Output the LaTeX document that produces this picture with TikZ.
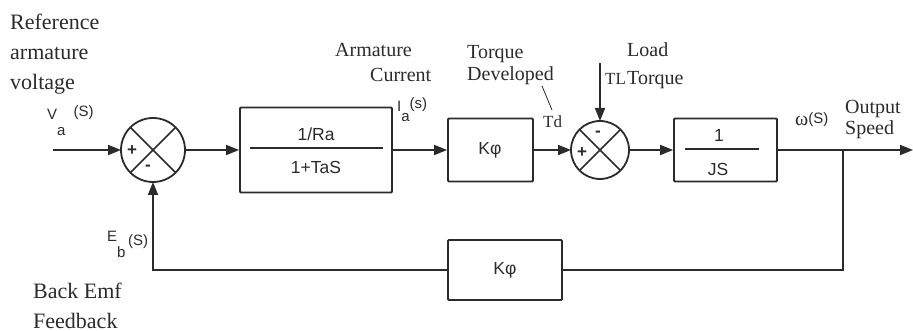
\documentclass[tikz,border=0pt]{standalone}
\usepackage{fontspec}
\setmainfont{Liberation Serif}
\newfontfamily\lsans{Liberation Sans}
\usetikzlibrary{arrows.meta}
\definecolor{ink}{HTML}{2B2B2B}
\tikzset{
  wire/.style={draw=ink, line width=1.8pt},
  arr/.style={wire, -{Triangle[length=13pt,width=10pt]}},
  blockbox/.style={draw=ink, line width=1.8pt, rectangle, inner sep=0pt, rounded corners=1pt},
  sumc/.style={draw=ink, line width=1.8pt, circle, inner sep=0pt, outer sep=0pt},
  big/.style={font=\fontsize{22}{26}\selectfont, text=ink, inner sep=0pt, anchor=base west},
  lbl/.style={font=\fontsize{20}{24}\selectfont, text=ink, inner sep=0pt, anchor=base west},
  sans/.style={font=\lsans\fontsize{17.5}{20}\selectfont, text=ink, inner sep=0pt},
  sig/.style={font=\lsans\fontsize{15}{18}\selectfont, text=ink, inner sep=0pt, anchor=base west},
  sgn/.style={font=\lsans\bfseries\fontsize{17}{20}\selectfont, text=ink, inner sep=0pt}
}
\begin{document}
\begin{tikzpicture}[x=1pt,y=-1pt]
\useasboundingbox (0,0) rectangle (913,331);

% summing junctions
\node[sumc, minimum size=64pt] (s1) at (153,150) {};
\draw[wire, line width=1.5pt] (s1.north west) -- (s1.south east);
\draw[wire, line width=1.5pt] (s1.north east) -- (s1.south west);
\node[sgn] (s1p) at (132,151) {+};
\node[sgn] (s1m) at (148,168) {-};

\node[sumc, minimum size=58pt] (s2) at (600,150) {};
\draw[wire, line width=1.5pt] (s2.north west) -- (s2.south east);
\draw[wire, line width=1.5pt] (s2.north east) -- (s2.south west);
\node[sgn] (s2p) at (582,153) {+};
\node[sgn] (s2m) at (598,134) {-};

% blocks
\node[blockbox, minimum width=152pt, minimum height=85pt] (b1) at (316,150) {};
\draw[wire] (250,148) coordinate (f1a) -- (383,148) coordinate (f1b);
\node[sans] (b1n) at (316,134) {1/Ra};
\node[sans] (b1d) at (316,167) {1+TaS};

\node[blockbox, minimum width=85pt, minimum height=63pt] (k1) at (490.5,150) {};
\node[sans] (k1t) at (490,150) {Kφ};

\node[blockbox, minimum width=103pt, minimum height=63pt] (j) at (725.5,150) {};
\draw[wire] (685,149) coordinate (f2a) -- (759,149) coordinate (f2b);
\node[sans] (jn) at (719,135) {1};
\node[sans] (jd) at (718,169) {JS};

\node[blockbox, minimum width=114pt, minimum height=60pt] (k2) at (505,270) {};
\node[sans] (k2t) at (505,270) {Kφ};

% connectors
\coordinate (in) at (53,150);
\coordinate (out) at (913,150);
\coordinate (br) at (843,150);
\coordinate (tl) at (600,63);
\draw[arr] (in) -- (s1);
\draw[arr] (s1) -- (b1);
\draw[arr] (b1) -- (k1);
\draw[arr] (k1) -- (s2);
\draw[arr] (s2) -- (j);
\draw[arr] (j) -- (out);
\draw[arr] (tl) -- (s2.north);
\draw[wire] (br) |- (k2.east);
\draw[arr] (k2.west) -| (s1.south);

% labels
\node[big] (ref1) at (10,30) {Reference};
\node[big] (ref2) at (10,60) {armature};
\node[big] (ref3) at (10,90) {voltage};
\node[sig] (va) at (47,120) {V\raisebox{-16pt}{a}\raisebox{3pt}{\hspace{8pt}(S)}};

\node[lbl] (arm1) at (335,57) {Armature};
\node[lbl] (arm2) at (370,82) {Current};
\node[sig] (ia) at (397,112) {I\raisebox{-10pt}{a}\raisebox{3pt}{(s)}};

\node[lbl] (tq1) at (467,59) {Torque};
\node[lbl] (tq2) at (467,81) {Developed};
\node[lbl, font=\fontsize{17}{20}\selectfont] (td) at (543,128) {Td};
\coordinate (tda) at (542,86);
\coordinate (tdb) at (552,110);
\draw[draw=ink, line width=0.8pt] (tda) -- (tdb);

\node[lbl] (ld1) at (627,57) {Load};
\node[lbl, font=\fontsize{17}{20}\selectfont] (tlt) at (605,85) {TL};
\node[lbl] (ld2) at (627,85) {Torque};

\node[lbl] (om) at (795,126) {ω\lsans\fontsize{15}{18}\selectfont\raisebox{2pt}{(S)}};
\node[lbl] (os1) at (845,114) {Output};
\node[lbl] (os2) at (845,135) {Speed};

\node[sig] (eb) at (107,242) {E\raisebox{-16pt}{b}\raisebox{-3pt}{\,(S)}};
\node[big] (bk1) at (33,298) {Back Emf};
\node[big] (bk2) at (33,328) {Feedback};
\end{tikzpicture}
\end{document}
